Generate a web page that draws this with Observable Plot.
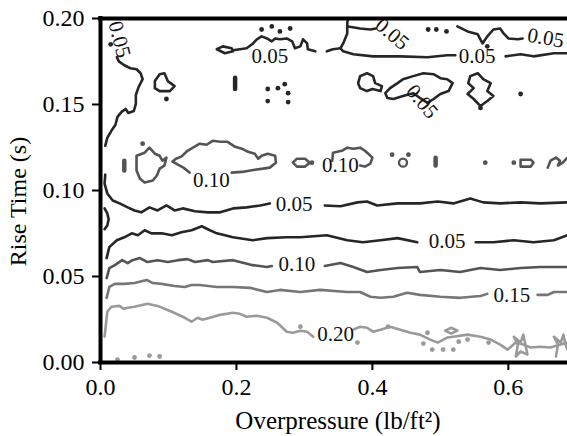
<!DOCTYPE html>
<html>
<head>
<meta charset="utf-8">
<script src="https://cdn.jsdelivr.net/npm/d3@7"></script>
<script src="https://cdn.jsdelivr.net/npm/@observablehq/plot@0.6"></script>
<style>
  html, body { margin: 0; padding: 0; background: white; }
  #chart { width: 567px; height: 436px; overflow: hidden; }
</style>
</head>
<body>
<div id="chart"></div>
<script>
// ---- axes ----
const xTicks = [0, 0.2, 0.4, 0.6];
const yTicks = [0, 0.05, 0.10, 0.15, 0.20];
const xTitle = "Overpressure (lb/ft²)";
const yTitle = "Rise Time (s)";
const levels = ["0.05", "0.10", "0.15", "0.20"];
const levelColors = ["#262626", "#545454", "#767676", "#9a9a9a"];

// ---- contour level 0.20 ----
const c20a = [[0.006,0.0150],[0.010,0.0295],[0.016,0.0324],[0.028,0.0329],[0.034,0.0312],[0.040,0.0318],[0.050,0.0324],[0.069,0.0341],[0.084,0.0329],[0.105,0.0295],[0.124,0.0260],[0.134,0.0237],[0.143,0.0260],[0.150,0.0249],[0.161,0.0260],[0.176,0.0277],[0.195,0.0289],[0.205,0.0283],[0.215,0.0266],[0.230,0.0272],[0.245,0.0260],[0.260,0.0231],[0.274,0.0179],[0.283,0.0173],[0.294,0.0185],[0.304,0.0179],[0.313,0.0150]];
const c20b = [[0.372,0.0191],[0.382,0.0208],[0.392,0.0202],[0.401,0.0179],[0.412,0.0191],[0.426,0.0208],[0.441,0.0191],[0.456,0.0173],[0.470,0.0162],[0.485,0.0133],[0.496,0.0116],[0.510,0.0145],[0.519,0.0150],[0.540,0.0162],[0.559,0.0150],[0.574,0.0133],[0.588,0.0104],[0.599,0.0075],[0.611,0.0116],[0.622,0.0104],[0.633,0.0087],[0.647,0.0092],[0.662,0.0087],[0.677,0.0104],[0.687,0.0116]];
const c20c = [[0.507,0.0185],[0.516,0.0202],[0.525,0.0185],[0.516,0.0168]];
const c20d = [[0.611,0.0035],[0.614,0.0104],[0.608,0.0150],[0.618,0.0116],[0.622,0.0162],[0.625,0.0104],[0.628,0.0046],[0.618,0.0064]];
const c20e = [[0.670,0.0035],[0.673,0.0104],[0.667,0.0150],[0.677,0.0116],[0.681,0.0162],[0.684,0.0104],[0.687,0.0075]];
const dots20 = [[0.475,0.0110],[0.488,0.0075],[0.504,0.0075],[0.519,0.0075],[0.527,0.0121],[0.540,0.0133],[0.571,0.0116],[0.481,0.0173],[0.378,0.0116],[0.423,0.0208],[0.294,0.0208],[0.025,0.0017],[0.050,0.0029],[0.072,0.0040],[0.087,0.0035]];

// ---- contour level 0.15 ----
const c15a = [[0.009,0.0376],[0.013,0.0439],[0.021,0.0457],[0.035,0.0457],[0.050,0.0462],[0.068,0.0480],[0.077,0.0462],[0.090,0.0457],[0.109,0.0445],[0.124,0.0439],[0.134,0.0451],[0.146,0.0451],[0.171,0.0439],[0.195,0.0439],[0.220,0.0434],[0.245,0.0410],[0.264,0.0422],[0.294,0.0410],[0.323,0.0422],[0.363,0.0410],[0.382,0.0410],[0.397,0.0382],[0.412,0.0376],[0.431,0.0382],[0.451,0.0405],[0.470,0.0393],[0.500,0.0382],[0.529,0.0376],[0.559,0.0387],[0.569,0.0399]];
const c15b = [[0.643,0.0393],[0.658,0.0393],[0.667,0.0410],[0.687,0.0410]];

// ---- contour level 0.10 ----
const c10a = [[0.009,0.0491],[0.013,0.0549],[0.021,0.0566],[0.032,0.0595],[0.040,0.0578],[0.047,0.0595],[0.058,0.0607],[0.069,0.0584],[0.084,0.0595],[0.099,0.0584],[0.114,0.0595],[0.128,0.0601],[0.139,0.0584],[0.158,0.0595],[0.165,0.0584],[0.195,0.0595],[0.224,0.0566],[0.245,0.0555],[0.252,0.0561]];
const c10b = [[0.330,0.0561],[0.353,0.0578],[0.372,0.0555],[0.392,0.0526],[0.412,0.0538],[0.437,0.0549],[0.466,0.0555],[0.470,0.0526],[0.500,0.0538],[0.529,0.0526],[0.559,0.0549],[0.588,0.0538],[0.618,0.0549],[0.647,0.0555],[0.687,0.0555]];
const c10c = [[0.053,0.1202],[0.065,0.1220],[0.072,0.1249],[0.080,0.1214],[0.087,0.1202],[0.091,0.1173],[0.097,0.1191],[0.094,0.1145],[0.087,0.1127],[0.083,0.1087],[0.077,0.1058],[0.065,0.1046],[0.058,0.1069],[0.053,0.1116]];
const c10d = [[0.193,0.1104],[0.212,0.1110],[0.227,0.1121],[0.239,0.1127],[0.249,0.1133],[0.258,0.1162],[0.257,0.1202],[0.246,0.1214],[0.237,0.1202],[0.232,0.1185],[0.227,0.1214],[0.217,0.1225],[0.208,0.1243],[0.198,0.1254],[0.187,0.1283],[0.176,0.1283],[0.165,0.1289],[0.156,0.1266],[0.146,0.1272],[0.136,0.1249],[0.128,0.1231],[0.119,0.1197],[0.111,0.1185],[0.106,0.1168],[0.114,0.1150],[0.122,0.1133],[0.131,0.1104]];
const c10e = [[0.341,0.1173],[0.342,0.1220],[0.355,0.1231],[0.363,0.1249],[0.372,0.1243],[0.382,0.1249],[0.389,0.1231],[0.394,0.1214],[0.400,0.1191],[0.397,0.1156],[0.389,0.1139],[0.382,0.1145]];
const c10f = [[0.283,0.1162],[0.289,0.1185],[0.301,0.1185],[0.308,0.1162],[0.301,0.1139],[0.289,0.1139]];
const c10g = [[0.618,0.1179],[0.633,0.1179],[0.637,0.1162],[0.633,0.1139],[0.618,0.1139]];
const c10h = [[0.658,0.1133],[0.662,0.1173],[0.670,0.1191],[0.676,0.1173],[0.673,0.1145],[0.680,0.1162],[0.687,0.1191]];
const c10i = [[0.493,0.1191],[0.493,0.1145]];
const c10j = [[0.035,0.1173],[0.035,0.1116]];
const dots10 = [[0.311,0.1162],[0.429,0.1208],[0.453,0.1208],[0.566,0.1162],[0.608,0.1162],[0.062,0.1272]];
const rings10 = [[0.445,0.1162]];

// ---- contour level 0.05 ----
const c05a = [[0.009,0.0607],[0.013,0.0671],[0.024,0.0711],[0.035,0.0728],[0.046,0.0751],[0.055,0.0740],[0.065,0.0769],[0.075,0.0751],[0.090,0.0751],[0.105,0.0740],[0.119,0.0757],[0.134,0.0769],[0.149,0.0792],[0.161,0.0769],[0.171,0.0751],[0.195,0.0728],[0.224,0.0711],[0.245,0.0723],[0.274,0.0728],[0.294,0.0728],[0.333,0.0740],[0.363,0.0711],[0.386,0.0699],[0.412,0.0711],[0.437,0.0723],[0.466,0.0699]];
const c05b = [[0.552,0.0699],[0.578,0.0699],[0.608,0.0711],[0.637,0.0699],[0.667,0.0711],[0.687,0.0740]];
const c05c = [[0.007,0.1092],[0.006,0.1040],[0.010,0.0983],[0.018,0.0942],[0.028,0.0925],[0.040,0.0902],[0.050,0.0884],[0.060,0.0873],[0.072,0.0902],[0.084,0.0884],[0.097,0.0913],[0.109,0.0884],[0.121,0.0896],[0.139,0.0879],[0.158,0.0873],[0.176,0.0873],[0.195,0.0896],[0.215,0.0902],[0.235,0.0913],[0.249,0.0925]];
const c05d = [[0.330,0.0913],[0.353,0.0908],[0.378,0.0931],[0.392,0.0936],[0.407,0.0913],[0.437,0.0925],[0.470,0.0925],[0.496,0.0936],[0.519,0.0925],[0.544,0.0954],[0.563,0.0931],[0.588,0.0925],[0.618,0.0931],[0.647,0.0925],[0.687,0.0931]];
const c05e = [[0.006,0.0896],[0.010,0.0867],[0.012,0.0832],[0.010,0.0797],[0.006,0.0775]];
const c05f = [[0.007,0.1260],[0.010,0.1306],[0.016,0.1347],[0.022,0.1382],[0.025,0.1428],[0.031,0.1457],[0.037,0.1474],[0.041,0.1451],[0.049,0.1462],[0.052,0.1503],[0.052,0.1555],[0.056,0.1601],[0.062,0.1647],[0.059,0.1682],[0.053,0.1705],[0.044,0.1711],[0.035,0.1728],[0.027,0.1751],[0.024,0.1775]];
const c05g = [[0.080,0.1636],[0.087,0.1676],[0.094,0.1682],[0.099,0.1636],[0.109,0.1607],[0.102,0.1578],[0.087,0.1578],[0.080,0.1595]];
const c05h = [[0.382,0.1665],[0.392,0.1682],[0.401,0.1665],[0.404,0.1624],[0.414,0.1607],[0.412,0.1578],[0.400,0.1590],[0.392,0.1578],[0.382,0.1595],[0.379,0.1624]];
const c05i = [[0.419,0.1566],[0.426,0.1595],[0.437,0.1624],[0.445,0.1647],[0.460,0.1665],[0.475,0.1682],[0.490,0.1676],[0.500,0.1653],[0.510,0.1647],[0.518,0.1624],[0.512,0.1578],[0.500,0.1561],[0.490,0.1532],[0.481,0.1509],[0.470,0.1538],[0.460,0.1566],[0.445,0.1549],[0.431,0.1532],[0.422,0.1538]];
const c05j = [[0.544,0.1665],[0.555,0.1682],[0.563,0.1647],[0.574,0.1624],[0.569,0.1578],[0.578,0.1549],[0.569,0.1520],[0.559,0.1491],[0.549,0.1532],[0.540,0.1561],[0.549,0.1595],[0.541,0.1624]];
const c05k = [[0.171,0.1821],[0.180,0.1838],[0.193,0.1827],[0.195,0.1809],[0.183,0.1798]];
const c05l = [[0.195,0.1815],[0.205,0.1821],[0.215,0.1827],[0.223,0.1850],[0.230,0.1879],[0.237,0.1896],[0.245,0.1884],[0.252,0.1867],[0.257,0.1884],[0.264,0.1879],[0.274,0.1884],[0.282,0.1867],[0.286,0.1827],[0.294,0.1838],[0.298,0.1879],[0.304,0.1855],[0.305,0.1821],[0.316,0.1809]];
const c05m = [[0.333,0.1809],[0.342,0.1821],[0.353,0.1827],[0.357,0.1855],[0.363,0.1913],[0.363,0.1971],[0.364,0.2000]];
const c05n = [[0.353,0.1827],[0.357,0.1809],[0.372,0.1792],[0.401,0.1780],[0.441,0.1780],[0.481,0.1775],[0.510,0.1786],[0.522,0.1786]];
const c05o = [[0.596,0.1780],[0.618,0.1792],[0.637,0.1780],[0.667,0.1798],[0.687,0.1798]];
const c05p = [[0.364,0.1954],[0.382,0.1942],[0.397,0.1936],[0.405,0.1942]];
const c05q = [[0.525,0.1954],[0.540,0.1925],[0.555,0.1908],[0.562,0.1855],[0.569,0.1896],[0.578,0.1936],[0.588,0.1942],[0.593,0.1913],[0.600,0.1884],[0.614,0.1879],[0.621,0.1884]];
const c05r = [[0.198,0.1655],[0.198,0.1590]];
const dots05 = [[0.237,0.1936],[0.252,0.1954],[0.264,0.1925],[0.279,0.1942],[0.482,0.1936],[0.494,0.1936],[0.509,0.1925],[0.569,0.1838],[0.246,0.1590],[0.261,0.1595],[0.271,0.1618],[0.276,0.1566],[0.246,0.1520],[0.276,0.1514],[0.559,0.1480],[0.618,0.1561],[0.097,0.1532],[0.015,0.1850]];

// ---- contour labels ----
const labelText  = ["0.05","0.05","0.05","0.05","0.05","0.05","0.10","0.10","0.05","0.05","0.10","0.15","0.20"];
const labelX     = [0.028, 0.249, 0.429, 0.655, 0.554, 0.473, 0.163, 0.353, 0.285, 0.510, 0.289, 0.605, 0.346];
const labelY     = [0.1879,0.1783,0.1910,0.1887,0.1783,0.1517,0.1058,0.1145,0.0919,0.0702,0.0570,0.0393,0.0162];
const labelAngle = [75, 0, 40, 10, 0, 50, 0, 0, 0, 0, 0, 0, 0];

// ---- build tables ----
const paths = [
  ["0.20", c20a, false], ["0.20", c20b, false], ["0.20", c20c, true], ["0.20", c20d, true], ["0.20", c20e, false],
  ["0.15", c15a, false], ["0.15", c15b, false],
  ["0.10", c10a, false], ["0.10", c10b, false], ["0.10", c10c, true], ["0.10", c10d, false], ["0.10", c10e, false],
  ["0.10", c10f, true], ["0.10", c10g, true], ["0.10", c10h, false],
  ["0.05", c05a, false], ["0.05", c05b, false], ["0.05", c05c, false], ["0.05", c05d, false], ["0.05", c05e, false],
  ["0.05", c05f, false], ["0.05", c05g, true], ["0.05", c05h, true], ["0.05", c05i, true], ["0.05", c05j, true],
  ["0.05", c05k, true], ["0.05", c05l, false], ["0.05", c05m, false], ["0.05", c05n, false], ["0.05", c05o, false],
  ["0.05", c05p, false], ["0.05", c05q, false]
];
const lineRows = paths.flatMap(([level, pts, closed], i) =>
  (closed ? [...pts, pts[0]] : pts).map(([x, y]) => ({id: i, level, x, y})));
const blobs = [["0.10", c10i], ["0.10", c10j], ["0.05", c05r]];
const blobRows = blobs.flatMap(([level, pts], i) => pts.map(([x, y]) => ({id: i, level, x, y})));
const dotRows = [
  ...dots20.map(([x, y]) => ({level: "0.20", x, y})),
  ...dots10.map(([x, y]) => ({level: "0.10", x, y})),
  ...dots05.map(([x, y]) => ({level: "0.05", x, y}))
];
const ringRows = rings10.map(([x, y]) => ({level: "0.10", x, y}));
const labelRows = labelText.map((t, i) => ({t, x: labelX[i], y: labelY[i], a: labelAngle[i]}));

const serif = "Liberation Serif";

const chart = Plot.plot({
  width: 567,
  height: 436,
  marginLeft: 100,
  marginRight: 0,
  marginTop: 18,
  marginBottom: 74,
  style: {fontFamily: serif, fontSize: "24px", background: "white", color: "black"},
  x: {domain: [0, 0.687]},
  y: {domain: [0, 0.2]},
  color: {type: "ordinal", domain: levels, range: levelColors},
  marks: [
    Plot.line(lineRows, {x: "x", y: "y", z: "id", stroke: "level", strokeWidth: 2.6, strokeLinejoin: "round", strokeLinecap: "round", clip: true}),
    Plot.line(blobRows, {x: "x", y: "y", z: "id", stroke: "level", strokeWidth: 4.5, strokeLinecap: "round", clip: true}),
    Plot.dot(dotRows, {x: "x", y: "y", r: 2.4, fill: "level", stroke: null, clip: true}),
    Plot.dot(ringRows, {x: "x", y: "y", r: 4, stroke: "level", fill: "none", strokeWidth: 2.4}),
    Plot.text(labelRows, {x: "x", y: "y", text: "t", rotate: "a", fontSize: 21, fill: "#111", fontFamily: serif}),
    Plot.axisX({ticks: xTicks, tickFormat: d => d.toFixed(1), tickSize: 8, tickPadding: 7, strokeWidth: 2, label: null, fontSize: 24, fontFamily: serif}),
    Plot.axisY({ticks: yTicks, tickFormat: d => d.toFixed(2), tickSize: 8, tickPadding: 8, strokeWidth: 2, label: null, fontSize: 24, fontFamily: serif}),
    Plot.ruleX([0], {strokeWidth: 4, stroke: "black", strokeLinecap: "square"}),
    Plot.ruleY([0, 0.2], {strokeWidth: 4, stroke: "black", strokeLinecap: "square"}),
    Plot.text([xTitle], {frameAnchor: "bottom", textAnchor: "middle", dx: 4, dy: 66, fontSize: 25, fill: "black", fontFamily: serif}),
    Plot.text([yTitle], {frameAnchor: "left", textAnchor: "middle", dx: -82, dy: 11, rotate: -90, fontSize: 24, fill: "black", fontFamily: serif})
  ]
});
document.getElementById("chart").appendChild(chart);
</script>
</body>
</html>
